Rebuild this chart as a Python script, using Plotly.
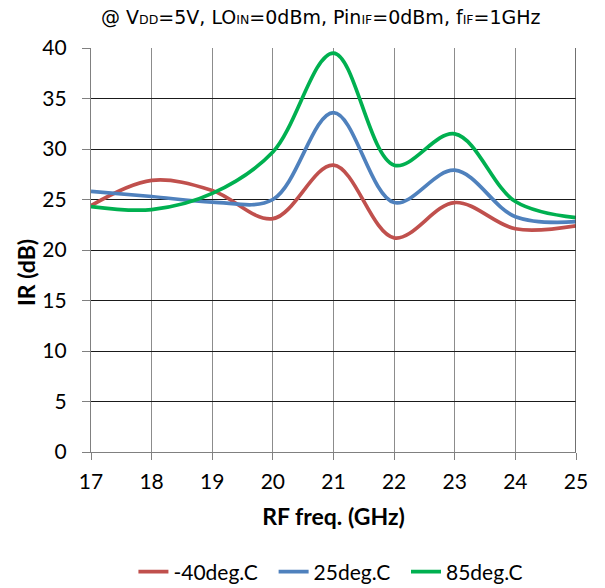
import plotly.graph_objects as go

freq = [17, 18, 19, 20, 21, 22, 23, 24, 25]
ir_m40 = [24.4, 26.9, 25.9, 23.1, 28.4, 21.2, 24.7, 22.1, 22.4]
ir_25 = [25.8, 25.3, 24.75, 25.0, 33.6, 24.7, 27.9, 23.3, 22.8]
ir_85 = [24.3, 24.0, 25.6, 29.7, 39.5, 28.4, 31.5, 24.8, 23.2]
names = ["-40deg.C", "25deg.C", "85deg.C"]
colors = ["#C0504D", "#4F81BD", "#00B050"]

fig = go.Figure()
for ys, n, c in zip([ir_m40, ir_25, ir_85], names, colors):
    fig.add_trace(go.Scatter(x=freq, y=ys, mode="lines", name=n + "\u00a0\u00a0",
                             line=dict(color=c, width=3.7, shape="spline", smoothing=1.0)))

fnt = "Lato, Carlito, Calibri, sans-serif"
sub = "<span style='font-size:12.5px'>{}</span>"
fig.update_layout(
    width=605, height=588,
    margin=dict(l=91, r=29, t=48, b=136, autoexpand=False),
    plot_bgcolor="white", paper_bgcolor="white",
    font=dict(family=fnt, size=21, color="black"),
    showlegend=True,
    legend=dict(orientation="h", x=0.505, xanchor="center", y=-0.297, yanchor="middle",
                font=dict(size=21), itemwidth=30, traceorder="normal"),
    annotations=[
        dict(text="@ V" + sub.format("DD") + "=5V, LO" + sub.format("IN") + "=0dBm, Pin" + sub.format("IF")
             + "=0dBm, f" + sub.format("IF") + "=1GHz",
             xref="paper", yref="paper", x=0.474, y=1.0, yshift=31, xanchor="center", yanchor="middle",
             showarrow=False, font=dict(family="DejaVu Sans, Verdana, sans-serif", size=19, color="black")),
        dict(text="<b>IR (dB)</b>", textangle=-90, xref="paper", yref="paper",
             x=-0.134, y=0.443, xanchor="center", yanchor="middle", showarrow=False,
             font=dict(size=23, color="black")),
    ],
)
fig.update_xaxes(range=[17, 25], dtick=1, tick0=17, showgrid=True, gridcolor="#8C8C8C", gridwidth=1.2,
                 showline=True, linecolor="#808080", linewidth=1.3, mirror=False,
                 ticks="outside", ticklen=7, tickcolor="#808080", zeroline=False, automargin=False,
                 ticklabelstandoff=4,
                 title=dict(text="<b>RF freq. (GHz)</b>", font=dict(size=23), standoff=16))
fig.update_yaxes(range=[0, 40], dtick=5, showgrid=True, gridcolor="#1A1A1A", gridwidth=1,
                 showline=True, linecolor="#808080", linewidth=1.3,
                 ticks="outside", ticklen=8, tickcolor="#808080", zeroline=False, automargin=False,
                 ticklabelstandoff=11)
fig.add_shape(type="line", xref="x", yref="paper", x0=25, x1=25, y0=0, y1=1,
              line=dict(color="#404040", width=1.5))
fig.write_html("out.html", config={"displayModeBar": False},
               post_script="document.body.style.margin='0';")
